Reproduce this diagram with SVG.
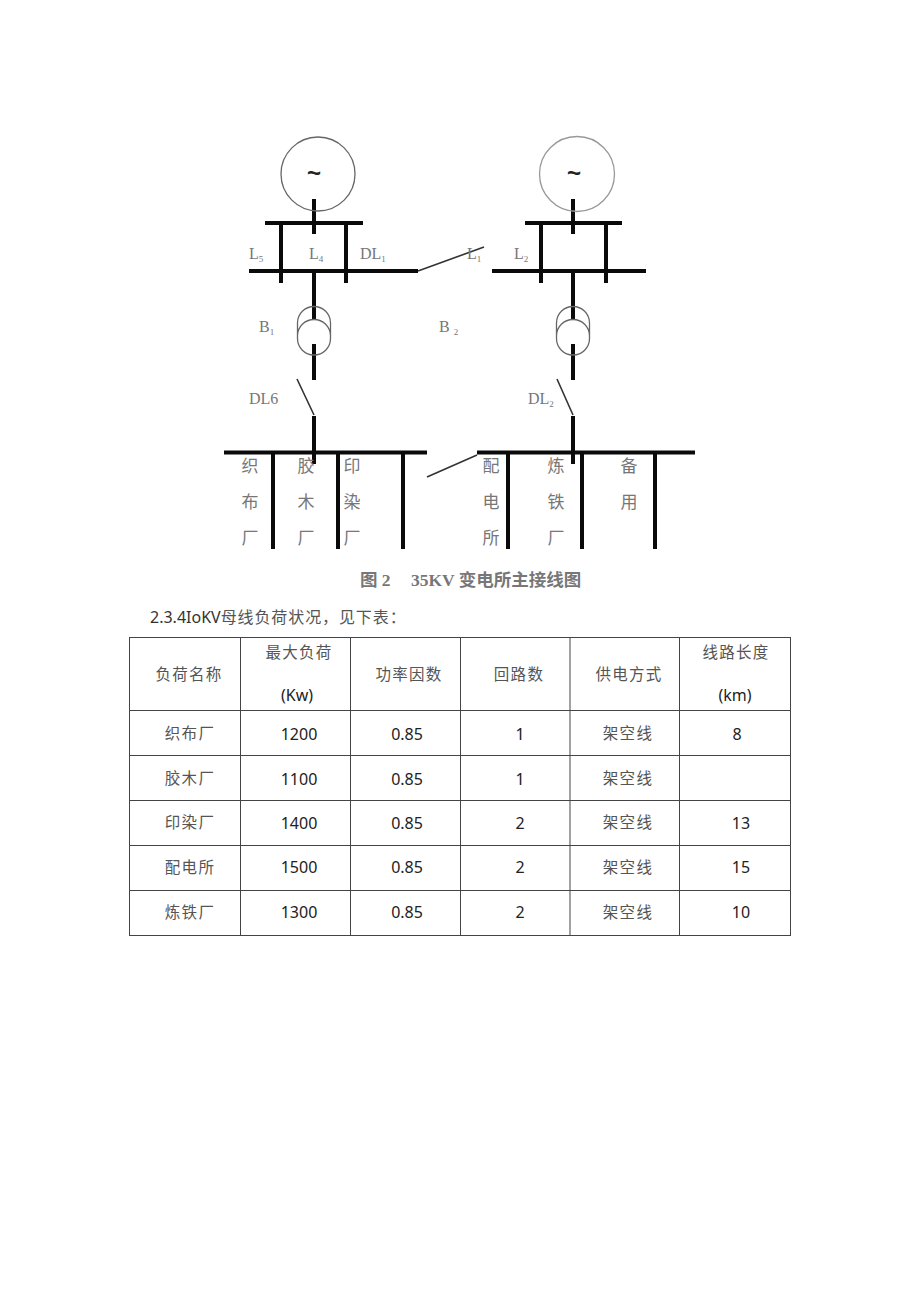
<svg xmlns="http://www.w3.org/2000/svg" width="920" height="1301" viewBox="0 0 920 1301">
<style>
.bus{stroke:#0a0a0a;stroke-width:4;fill:none}
.thin{stroke:#333;stroke-width:1.6;fill:none}
.ring{stroke:#666;stroke-width:1.3;fill:none}
.ring2{stroke:#999;stroke-width:1.3;fill:none}
.lab{font-family:"Liberation Serif",serif;font-size:16px;fill:#777}
.lab tspan{font-size:9px}
.cj{font-family:"Noto Sans CJK SC",sans-serif;font-size:17px;fill:#777;text-anchor:middle}
.sw{font-family:"Liberation Sans",sans-serif;font-weight:bold;font-size:24px;fill:#222;text-anchor:middle}
.cap{font-family:"Liberation Serif","Noto Sans CJK SC",serif;font-size:17.500px;font-weight:bold;fill:#777}
.th{font-family:"Noto Sans CJK SC",sans-serif;font-size:15.500px;letter-spacing:1.300px;fill:#555;text-anchor:middle}
.td{font-family:"Noto Sans",sans-serif;font-size:16px;fill:#222;text-anchor:middle}
.grid{stroke:#444;stroke-width:1;fill:none}
</style>
<rect width="920" height="1301" fill="#fff"/>
<g id="connectors">
<path class="bus" d="M314 199V234M265 223H363M281 223V283M346 223V283M249 271H418M314 271V319M314 344V380M314 416V464"/>
<path class="bus" d="M573 199V234M525 223H622M541 223V283M606 223V283M492 271H646M573 271V319M573 344V380M573 416V464"/>
<path class="bus" d="M224 452.500H427M273 452V549M338 452V549M403 452V549M477 452.500H695M508 452V549M582 452V549M655 452V549"/>
<path class="thin" d="M418 271L484 247M297 379L314 415M557 379L573 415M427 477L477 455"/>
</g>
<g id="gen-1"><circle class="ring" cx="318" cy="174" r="37"/><text class="sw" x="314" y="181">~</text></g>
<g id="gen-2"><circle class="ring2" cx="577" cy="174" r="37.500"/><text class="sw" x="574" y="181">~</text></g>
<g id="xfmr-1"><path class="ring" d="M297.500 323A16.500 16.500 0 0 1 330.500 323V338.500A16.500 16.500 0 0 1 297.500 338.500ZM297.500 336A16.500 16.500 0 0 1 330.500 336"/></g>
<g id="xfmr-2"><path class="ring" d="M556.500 323A16.500 16.500 0 0 1 589.500 323V338.500A16.500 16.500 0 0 1 556.500 338.500ZM556.500 336A16.500 16.500 0 0 1 589.500 336"/></g>
<g id="labels">
<text class="lab" x="249" y="259">L<tspan dy="3">5</tspan></text>
<text class="lab" x="309" y="259">L<tspan dy="3">4</tspan></text>
<text class="lab" x="360" y="259">DL<tspan dy="3">1</tspan></text>
<text class="lab" x="467" y="259">L<tspan dy="3">1</tspan></text>
<text class="lab" x="514" y="259">L<tspan dy="3">2</tspan></text>
<text class="lab" x="259" y="332">B<tspan dy="3">1</tspan></text>
<text class="lab" x="439" y="332">B <tspan dy="3">2</tspan></text>
<text class="lab" x="249" y="404">DL6</text>
<text class="lab" x="528" y="404">DL<tspan dy="3">2</tspan></text>
<text class="cj"><tspan x="250" y="472">织</tspan><tspan x="250" y="508">布</tspan><tspan x="250" y="544">厂</tspan></text>
<text class="cj"><tspan x="306" y="472">胶</tspan><tspan x="306" y="508">木</tspan><tspan x="306" y="544">厂</tspan></text>
<text class="cj"><tspan x="352" y="472">印</tspan><tspan x="352" y="508">染</tspan><tspan x="352" y="544">厂</tspan></text>
<text class="cj"><tspan x="491" y="472">配</tspan><tspan x="491" y="508">电</tspan><tspan x="491" y="544">所</tspan></text>
<text class="cj"><tspan x="556" y="472">炼</tspan><tspan x="556" y="508">铁</tspan><tspan x="556" y="544">厂</tspan></text>
<text class="cj"><tspan x="629" y="472">备</tspan><tspan x="629" y="508">用</tspan></text>
<text class="cap" x="360" y="586">图 2<tspan x="411">35KV 变电所主接线图</tspan></text>
</g>
<text x="150" y="623" font-family="'Noto Sans','Noto Sans CJK SC',sans-serif" font-size="16" fill="#333">2.3.4IoKV<tspan font-family="'Noto Sans CJK SC',sans-serif" font-size="16" letter-spacing="0.900" fill="#555">母线负荷状况，见下表：</tspan></text>
<g id="table">
<path class="grid" d="M129 637.500H791M129 710.500H791M129 755.500H791M129 800.500H791M129 845.500H791M129 890.500H791M129 935.500H791M129.500 637V936M240.500 637V936M350.500 637V936M460.500 637V936M570 637V936M679.500 637V936M790.500 637V936"/>
<text class="th" x="189" y="680">负荷名称</text>
<text class="th" x="299" y="658">最大负荷</text>
<text class="td" x="297" y="701">(Kw)</text>
<text class="th" x="409" y="680">功率因数</text>
<text class="th" x="519" y="680">回路数</text>
<text class="th" x="629" y="680">供电方式</text>
<text class="th" x="736" y="658">线路长度</text>
<text class="td" x="735" y="701">(km)</text>
<g class="rows">
<text class="th" x="190" y="739">织布厂</text><text class="td" x="299" y="740">1200</text><text class="td" x="407" y="740">0.85</text><text class="td" x="520" y="740">1</text><text class="th" x="628" y="739">架空线</text><text class="td" x="737" y="740">8</text>
<text class="th" x="190" y="784">胶木厂</text><text class="td" x="299" y="785">1100</text><text class="td" x="407" y="785">0.85</text><text class="td" x="520" y="785">1</text><text class="th" x="628" y="784">架空线</text>
<text class="th" x="190" y="828">印染厂</text><text class="td" x="299" y="829">1400</text><text class="td" x="407" y="829">0.85</text><text class="td" x="520" y="829">2</text><text class="th" x="628" y="828">架空线</text><text class="td" x="741" y="829">13</text>
<text class="th" x="190" y="873">配电所</text><text class="td" x="299" y="873">1500</text><text class="td" x="407" y="873">0.85</text><text class="td" x="520" y="873">2</text><text class="th" x="628" y="873">架空线</text><text class="td" x="741" y="873">15</text>
<text class="th" x="190" y="918">炼铁厂</text><text class="td" x="299" y="918">1300</text><text class="td" x="407" y="918">0.85</text><text class="td" x="520" y="918">2</text><text class="th" x="628" y="918">架空线</text><text class="td" x="741" y="918">10</text>
</g>
</g>
</svg>
